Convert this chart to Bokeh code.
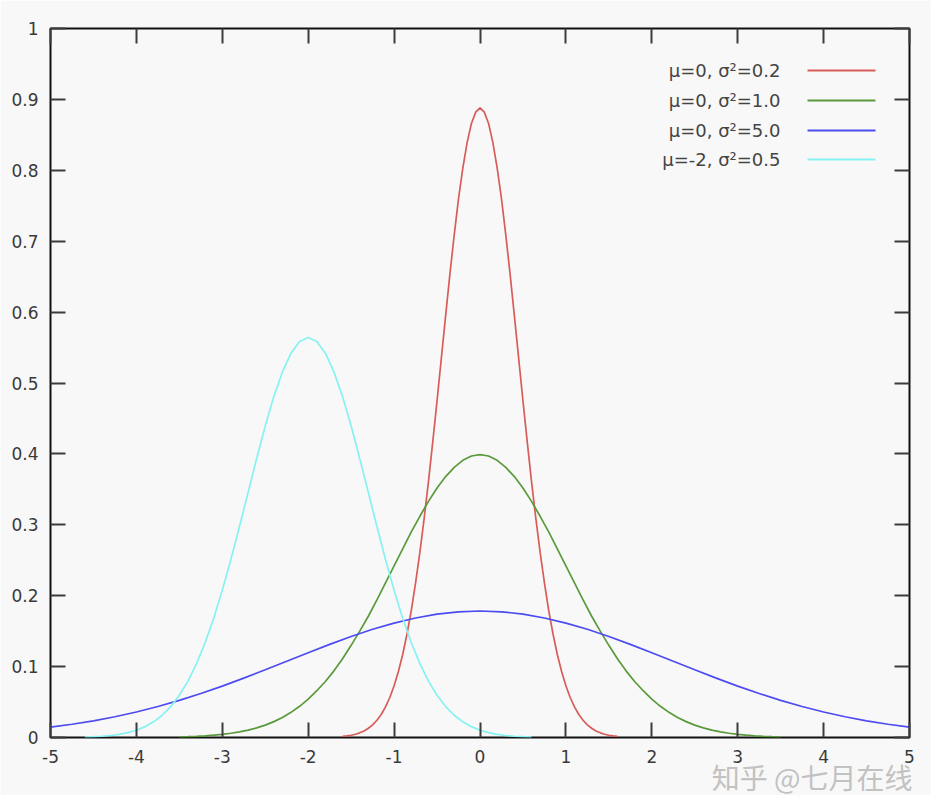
from bokeh.plotting import figure
from bokeh.models import LinearAxis, FixedTicker, PrintfTickFormatter, Range1d, Label, BoxAnnotation, Title
from bokeh.embed import file_html
from bokeh.resources import INLINE

# ---- data ----
x_ticks = [-5, -4, -3, -2, -1, 0, 1, 2, 3, 4, 5]
y_ticks = [0, 0.1, 0.2, 0.3, 0.4, 0.5, 0.6, 0.7, 0.8, 0.9, 1.0]

series_labels = ["μ=0, σ²=0.2", "μ=0, σ²=1.0", "μ=0, σ²=5.0", "μ=-2, σ²=0.5"]
series_colors = ["#d85c58", "#5a9a3c", "#4c4cf2", "#86f2f2"]

red_x = [-1.6, -1.55, -1.5, -1.45, -1.4, -1.35, -1.3, -1.25, -1.2, -1.15, -1.1, -1.05, -1.0, -0.95, -0.9, -0.85,
         -0.8, -0.75, -0.7, -0.65, -0.6, -0.55, -0.5, -0.45, -0.4, -0.35, -0.3, -0.25, -0.2, -0.15, -0.1, -0.05,
         0.0, 0.05, 0.1, 0.15, 0.2, 0.25, 0.3, 0.35, 0.4, 0.45, 0.5, 0.55, 0.6, 0.65, 0.7, 0.75,
         0.8, 0.85, 0.9, 0.95, 1.0, 1.05, 1.1, 1.15, 1.2, 1.25, 1.3, 1.35, 1.4, 1.45, 1.5, 1.55, 1.6]
red_y = [0.0015, 0.0022, 0.0032, 0.0046, 0.0066, 0.0093, 0.0130, 0.0179, 0.0243, 0.0325, 0.0431, 0.0564, 0.0729,
         0.093, 0.117, 0.146, 0.179, 0.218, 0.261, 0.309, 0.361, 0.417, 0.475, 0.535, 0.595, 0.654, 0.709, 0.760,
         0.803, 0.839, 0.866, 0.882,
         0.888,
         0.882, 0.866, 0.839, 0.803, 0.760, 0.709, 0.654, 0.595, 0.535, 0.475, 0.417, 0.361, 0.309, 0.261, 0.218,
         0.179, 0.146, 0.117, 0.093, 0.0729, 0.0564, 0.0431, 0.0325, 0.0243, 0.0179, 0.0130, 0.0093, 0.0066,
         0.0046, 0.0032, 0.0022, 0.0015]

green_x = [-3.5, -3.4, -3.3, -3.2, -3.1, -3.0, -2.9, -2.8, -2.7, -2.6, -2.5, -2.4, -2.3, -2.2, -2.1, -2.0, -1.9, -1.8,
           -1.7, -1.6, -1.5, -1.4, -1.3, -1.2, -1.1, -1.0, -0.9, -0.8, -0.7, -0.6, -0.5, -0.4, -0.3, -0.2, -0.1,
           0.0, 0.1, 0.2, 0.3, 0.4, 0.5, 0.6, 0.7, 0.8, 0.9, 1.0, 1.1, 1.2, 1.3, 1.4, 1.5, 1.6, 1.7, 1.8,
           1.9, 2.0, 2.1, 2.2, 2.3, 2.4, 2.5, 2.6, 2.7, 2.8, 2.9, 3.0, 3.1, 3.2, 3.3, 3.4, 3.5]
green_y = [0.0009, 0.0012, 0.0017, 0.0024, 0.0033, 0.0044, 0.0060, 0.0079, 0.0104, 0.0136, 0.0175, 0.0224, 0.0283,
           0.0355, 0.044, 0.054, 0.066, 0.079, 0.094, 0.111, 0.130, 0.150, 0.171, 0.194, 0.218, 0.242, 0.266,
           0.290, 0.312, 0.333, 0.352, 0.368, 0.381, 0.391, 0.397,
           0.399,
           0.397, 0.391, 0.381, 0.368, 0.352, 0.333, 0.312, 0.290, 0.266, 0.242, 0.218, 0.194, 0.171, 0.150,
           0.130, 0.111, 0.094, 0.079, 0.066, 0.054, 0.044, 0.0355, 0.0283, 0.0224, 0.0175, 0.0136, 0.0104,
           0.0079, 0.0060, 0.0044, 0.0033, 0.0024, 0.0017, 0.0012, 0.0009]

blue_x = [-5.0, -4.75, -4.5, -4.25, -4.0, -3.75, -3.5, -3.25, -3.0, -2.75, -2.5, -2.25, -2.0, -1.75, -1.5, -1.25,
          -1.0, -0.75, -0.5, -0.25, 0.0, 0.25, 0.5, 0.75, 1.0, 1.25, 1.5, 1.75, 2.0, 2.25, 2.5, 2.75,
          3.0, 3.25, 3.5, 3.75, 4.0, 4.25, 4.5, 4.75, 5.0]
blue_y = [0.0146, 0.0187, 0.0235, 0.0293, 0.0360, 0.0437, 0.0524, 0.0620, 0.0725, 0.0837, 0.0955, 0.1075,
          0.1196, 0.1313, 0.1425, 0.1526, 0.1614, 0.1686, 0.1740, 0.1773,
          0.1784,
          0.1773, 0.1740, 0.1686, 0.1614, 0.1526, 0.1425, 0.1313, 0.1196, 0.1075, 0.0955, 0.0837, 0.0725,
          0.0620, 0.0524, 0.0437, 0.0360, 0.0293, 0.0235, 0.0187, 0.0146]

cyan_x = [-4.6, -4.5, -4.4, -4.3, -4.2, -4.1, -4.0, -3.9, -3.8, -3.7, -3.6, -3.5, -3.4, -3.3, -3.2, -3.1, -3.0,
          -2.9, -2.8, -2.7, -2.6, -2.5, -2.4, -2.3, -2.2, -2.1, -2.0, -1.9, -1.8, -1.7, -1.6, -1.5, -1.4, -1.3,
          -1.2, -1.1, -1.0, -0.9, -0.8, -0.7, -0.6, -0.5, -0.4, -0.3, -0.2, -0.1, 0.0, 0.1, 0.2, 0.3, 0.4,
          0.5, 0.6]
cyan_y = [0.0007, 0.0011, 0.0018, 0.0028, 0.0045, 0.0069, 0.0103, 0.0153, 0.0221, 0.0314, 0.0436, 0.0595,
          0.0795, 0.1041, 0.1337, 0.1682, 0.2076, 0.2510, 0.2975, 0.3456, 0.3936, 0.4394, 0.4808, 0.5156,
          0.5421, 0.5586,
          0.5642,
          0.5586, 0.5421, 0.5156, 0.4808, 0.4394, 0.3936, 0.3456, 0.2975, 0.2510, 0.2076, 0.1682, 0.1337,
          0.1041, 0.0795, 0.0595, 0.0436, 0.0314, 0.0221, 0.0153, 0.0103, 0.0069, 0.0045, 0.0028, 0.0018,
          0.0011, 0.0007]

watermark = "知乎 @七月在线"

# ---- styling ----
BG = "#f8f8f8"
TICK_FONT = "DejaVu Sans"
TICK_COLOR = "#3a3a3a"

p = figure(frame_width=859, frame_height=709,
           x_range=Range1d(-5, 5), y_range=Range1d(0, 1),
           x_axis_location=None, y_axis_location=None,
           output_backend="svg", toolbar_location=None,
           min_border_left=50, min_border_top=28, min_border_right=22, min_border_bottom=58,
           background_fill_color=BG, border_fill_color=BG)
p.xgrid.visible = False
p.ygrid.visible = False
p.outline_line_color = "#111111"
p.outline_line_width = 2


def style_axis(ax, ticks, show_labels):
    ax.ticker = FixedTicker(ticks=ticks)
    ax.formatter = PrintfTickFormatter(format="%g")
    ax.axis_line_color = None
    ax.major_tick_in = 15
    ax.major_tick_out = 0
    ax.major_tick_line_color = "#3c3c3c"
    ax.major_tick_line_width = 2
    ax.minor_tick_line_color = None
    if show_labels:
        ax.major_label_text_font = TICK_FONT
        ax.major_label_text_font_size = "17px"
        ax.major_label_text_color = TICK_COLOR
        ax.major_label_standoff = 12
    else:
        ax.major_label_text_color = None
        ax.major_label_text_font_size = "1px"
        ax.major_label_standoff = 0


bx = LinearAxis(); style_axis(bx, x_ticks, True); p.add_layout(bx, "below")
ly = LinearAxis(); style_axis(ly, y_ticks, True); p.add_layout(ly, "left")
tx = LinearAxis(); style_axis(tx, x_ticks, False); p.add_layout(tx, "above")
ry = LinearAxis(); style_axis(ry, y_ticks, False); p.add_layout(ry, "right")

series_x = [red_x, green_x, blue_x, cyan_x]
series_y = [red_y, green_y, blue_y, cyan_y]
for xs, ys, c in zip(series_x, series_y, series_colors):
    p.line(xs, ys, line_color=c, line_width=1.7)

# legend (gnuplot style: label left, sample right)
row_y = [667, 637, 607, 578]
for lab, c, ry_ in zip(series_labels, series_colors, row_y):
    p.add_layout(Label(x=730, y=ry_, x_units="screen", y_units="screen", text=lab,
                       text_align="right", text_baseline="middle",
                       text_font=TICK_FONT, text_font_size="18px", text_color="#444444"))
    p.add_layout(BoxAnnotation(left=757, right=825, bottom=ry_ - 1, top=ry_ + 1,
                               left_units="screen", right_units="screen",
                               bottom_units="screen", top_units="screen",
                               fill_color=c, fill_alpha=1.0, line_color=None))

# watermark in the bottom panel, over the tick labels
p.add_layout(Title(text=watermark, align="right", offset=-3, standoff=-62,
                   text_font="Noto Sans CJK SC", text_font_size="28px", text_font_style="normal",
                   text_color="#c2c2c2"), "below")

open("out.html", "w").write(file_html(p, INLINE))
